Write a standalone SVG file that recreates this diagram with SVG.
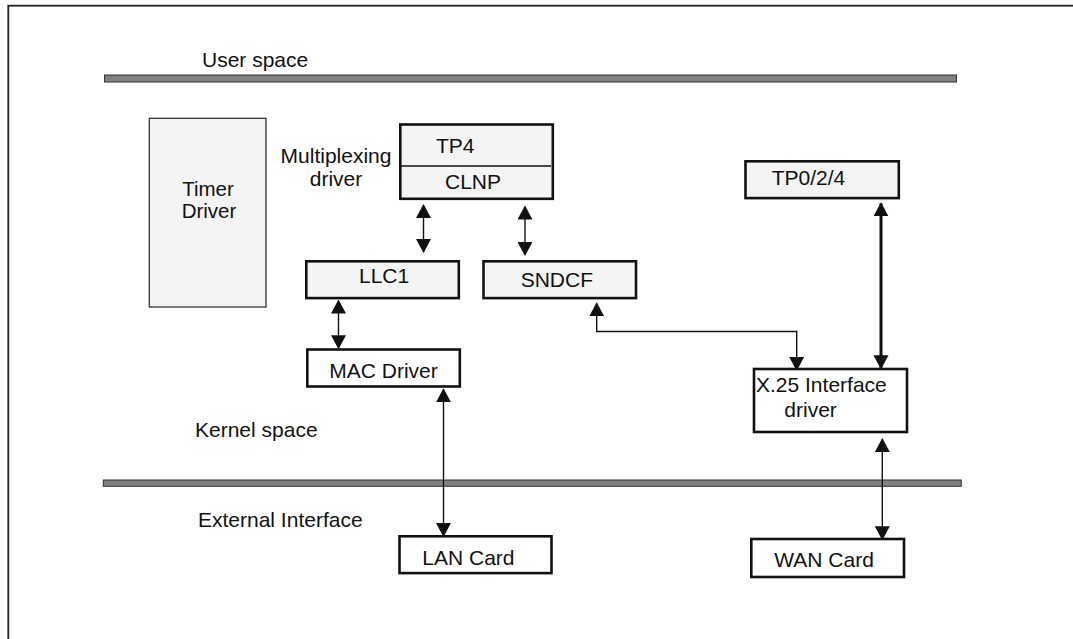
<svg xmlns="http://www.w3.org/2000/svg" width="1073" height="639" viewBox="0 0 1073 639">
<defs>
<style>
text{font-family:"Liberation Sans",Arial,Helvetica,sans-serif;font-size:21px;fill:#111}
.box{stroke:#111;stroke-width:2.6}
.g{fill:#f4f4f4}
.w{fill:#fff}
.bar{fill:#808080;stroke:#333;stroke-width:1}
.c{fill:none;stroke:#111;stroke-width:1.4;marker-start:url(#ah);marker-end:url(#ah)}
.thick{stroke-width:3}
.mid{text-anchor:middle}
.tight{font-size:20.5px}
</style>
<marker id="ah" viewBox="0 0 14 15" refX="13" refY="7.5" markerWidth="14" markerHeight="15" markerUnits="userSpaceOnUse" orient="auto-start-reverse">
<path d="M0,0 L14,7.5 L0,15 z" fill="#111"/>
</marker>
</defs>
<rect x="0" y="0" width="1073" height="639" fill="#fff"/>
<rect x="8.3" y="5.7" width="1200" height="700" fill="none" stroke="#222" stroke-width="1.8"/>

<g id="layers">
<rect class="bar" x="104.5" y="75" width="852" height="7"/>
<rect class="bar" x="103.3" y="480" width="858" height="6.3"/>
<text x="202" y="67">User space</text>
<text x="195" y="437">Kernel space</text>
<text x="198" y="527">External Interface</text>
</g>

<g id="connectors">
<line class="c" x1="423.5" y1="205" x2="423.5" y2="252"/>
<line class="c" x1="525" y1="206.5" x2="525" y2="255"/>
<line class="c" x1="338.5" y1="300.5" x2="338.5" y2="348.3"/>
<line class="c" x1="443.5" y1="389.3" x2="443.5" y2="536"/>
<polyline class="c" points="596.7,303.3 596.7,331.5 796.7,331.5 796.7,370"/>
<line class="c thick" x1="881" y1="203.3" x2="881" y2="368.3"/>
<line class="c" x1="882.3" y1="439" x2="882.3" y2="539.3"/>
</g>

<g id="timer">
<rect x="149.3" y="118.3" width="116.7" height="188.7" fill="#f4f4f4" stroke="#333" stroke-width="1.3"/>
<text class="mid tight" x="208" y="196">Timer</text>
<text class="mid tight" x="209" y="218">Driver</text>
</g>

<g id="mux-label">
<text class="mid" x="336" y="163">Multiplexing</text>
<text class="mid" x="336" y="186">driver</text>
</g>

<g id="tp4-clnp">
<rect class="box g" x="400.3" y="124.5" width="152.5" height="74.3"/>
<line x1="401" y1="166" x2="551" y2="166" stroke="#111" stroke-width="1.5"/>
<text x="436" y="153">TP4</text>
<text x="445" y="189">CLNP</text>
</g>

<g id="llc1">
<rect class="box g" x="306.3" y="261.3" width="152.5" height="36.8"/>
<text x="359" y="283">LLC1</text>
</g>

<g id="sndcf">
<rect class="box g" x="483.5" y="261.3" width="152.5" height="36.8"/>
<text x="520.7" y="287">SNDCF</text>
</g>

<g id="tp024">
<rect class="box g" x="745.5" y="161.3" width="153.3" height="36.8"/>
<text x="771.7" y="185">TP0/2/4</text>
</g>

<g id="mac">
<rect class="box w" x="307.3" y="349.5" width="152.5" height="37"/>
<text x="329.3" y="378">MAC Driver</text>
</g>

<g id="x25">
<rect class="box w" x="754" y="369" width="153" height="63"/>
<text x="756" y="392">X.25 Interface</text>
<text x="784.3" y="417">driver</text>
</g>

<g id="lan">
<rect class="box w" x="399.5" y="536.3" width="152" height="36.8"/>
<text x="422.3" y="565">LAN Card</text>
</g>

<g id="wan">
<rect class="box w" x="751.3" y="539" width="152.7" height="38"/>
<text x="774.3" y="567">WAN Card</text>
</g>
</svg>
